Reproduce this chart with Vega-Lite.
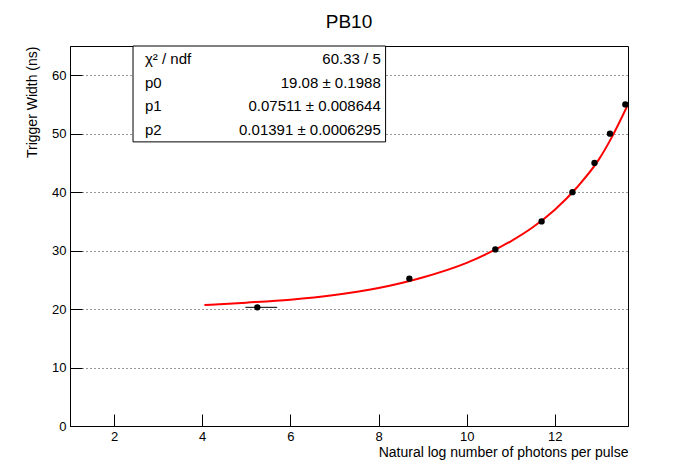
{
  "$schema": "https://vega.github.io/schema/vega-lite/v6.json",
  "width": 558,
  "height": 380,
  "autosize": "none",
  "padding": {"left": 70, "top": 46, "right": 70, "bottom": 48},
  "background": "white",
  "config": {"font": "Liberation Sans", "view": {"stroke": "black", "strokeWidth": 1}},
  "title": {"text": "PB10", "fontSize": 19, "fontWeight": "normal", "font": "Liberation Sans", "offset": 14},
  "datasets": {
    "points": [
      {"x": 5.25, "y": 20.3, "xlo": 4.98, "xhi": 5.7},
      {"x": 8.7, "y": 25.2, "xlo": 8.7, "xhi": 8.7},
      {"x": 10.65, "y": 30.2, "xlo": 10.65, "xhi": 10.65},
      {"x": 11.7, "y": 35.0, "xlo": 11.7, "xhi": 11.7},
      {"x": 12.4, "y": 40.0, "xlo": 12.4, "xhi": 12.4},
      {"x": 12.9, "y": 45.0, "xlo": 12.9, "xhi": 12.9},
      {"x": 13.25, "y": 50.0, "xlo": 13.25, "xhi": 13.25},
      {"x": 13.6, "y": 55.0, "xlo": 13.6, "xhi": 13.6}
    ],
    "fit": [
      {"x": 4.05, "y": 20.7}, {"x": 5, "y": 21.1}, {"x": 6, "y": 21.6}, {"x": 7, "y": 22.4},
      {"x": 8, "y": 23.6}, {"x": 9, "y": 25.4}, {"x": 10, "y": 27.9}, {"x": 10.5, "y": 29.6},
      {"x": 11, "y": 31.6}, {"x": 11.5, "y": 34.0}, {"x": 12, "y": 37.0}, {"x": 12.5, "y": 40.8},
      {"x": 13, "y": 45.6}, {"x": 13.3, "y": 49.5}, {"x": 13.66, "y": 55.0}
    ],
    "box": [{"x": 2.43, "x2": 8.16, "y": 48.6, "y2": 65}],
    "stats": [
      {"x": 2.7, "xr": 8.05, "y": 62.7, "name": "χ² / ndf", "val": "60.33 / 5"},
      {"x": 2.7, "xr": 8.05, "y": 58.6, "name": "p0", "val": "19.08 ± 0.1988"},
      {"x": 2.7, "xr": 8.05, "y": 54.8, "name": "p1", "val": "0.07511 ± 0.008644"},
      {"x": 2.7, "xr": 8.05, "y": 50.7, "name": "p2", "val": "0.01391 ± 0.0006295"}
    ]
  },
  "layer": [
    {
      "data": {"name": "fit"},
      "mark": {"type": "line", "color": "red", "strokeWidth": 2, "interpolate": "monotone", "clip": true},
      "encoding": {
        "x": {"field": "x", "type": "quantitative", "scale": {"domain": [1, 13.66], "nice": false, "zero": false},
          "axis": {"title": "Natural log number of photons per pulse", "titleAnchor": "end", "titleFontWeight": "normal", "titleFontSize": 14, "titleColor": "black", "titlePadding": 2,
            "values": [2, 4, 6, 8, 10, 12], "labelFontSize": 13, "labelColor": "black", "tickSize": -12, "tickColor": "black", "domainColor": "black", "grid": false, "labelPadding": 16}},
        "y": {"field": "y", "type": "quantitative", "scale": {"domain": [0, 65], "nice": false},
          "axis": {"title": "Trigger Width (ns)", "titleAnchor": "end", "titleFontWeight": "normal", "titleFontSize": 14, "titleColor": "black", "titlePadding": 12,
            "values": [0, 10, 20, 30, 40, 50, 60], "labelFontSize": 13, "labelColor": "black", "tickSize": -12, "tickColor": "black", "domainColor": "black", "labelPadding": 16,
            "grid": true, "gridDash": [1, 3], "gridColor": "black", "gridOpacity": 0.8}}
      }
    },
    {
      "data": {"name": "points"},
      "mark": {"type": "rule", "color": "black"},
      "encoding": {"x": {"field": "xlo", "type": "quantitative"}, "x2": {"field": "xhi"}, "y": {"field": "y", "type": "quantitative"}}
    },
    {
      "data": {"name": "points"},
      "mark": {"type": "circle", "color": "black", "size": 40, "opacity": 1},
      "encoding": {"x": {"field": "x", "type": "quantitative"}, "y": {"field": "y", "type": "quantitative"}}
    },
    {
      "data": {"name": "box"},
      "mark": {"type": "rect", "fill": "white", "stroke": "black", "strokeWidth": 1},
      "encoding": {"x": {"field": "x", "type": "quantitative"}, "x2": {"field": "x2"}, "y": {"field": "y", "type": "quantitative"}, "y2": {"field": "y2"}}
    },
    {
      "data": {"name": "stats"},
      "mark": {"type": "text", "align": "left", "fontSize": 15, "color": "black"},
      "encoding": {"x": {"field": "x", "type": "quantitative"}, "y": {"field": "y", "type": "quantitative"}, "text": {"field": "name"}}
    },
    {
      "data": {"name": "stats"},
      "mark": {"type": "text", "align": "right", "fontSize": 15, "color": "black"},
      "encoding": {"x": {"field": "xr", "type": "quantitative"}, "y": {"field": "y", "type": "quantitative"}, "text": {"field": "val"}}
    }
  ]
}
